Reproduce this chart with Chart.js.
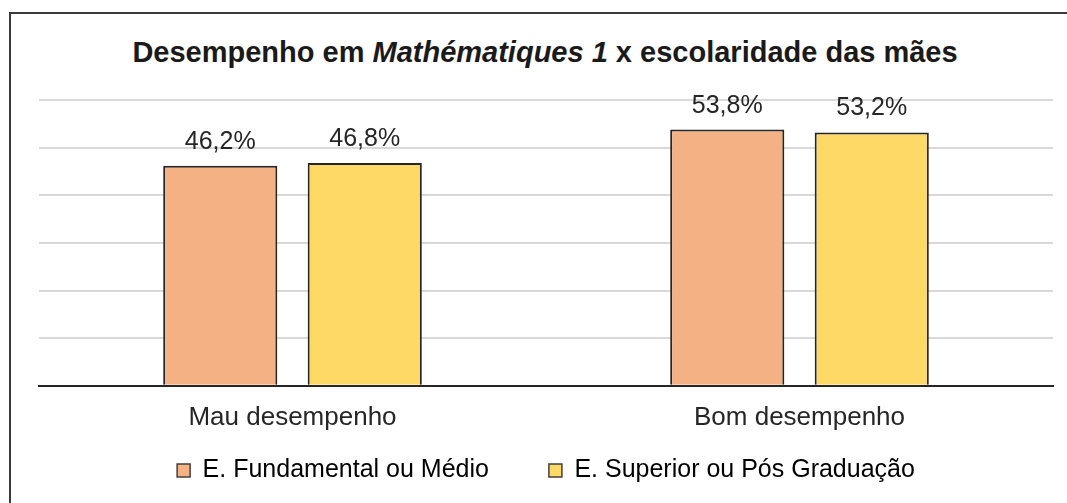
<!DOCTYPE html>
<html>
<head>
<meta charset="utf-8">
<script src="https://cdn.jsdelivr.net/npm/chart.js@4"></script>
<style>
  html, body { margin: 0; padding: 0; background: #fff; }
  #wrap { position: relative; width: 1067px; height: 503px; overflow: hidden; }
  #frame { position: absolute; left: 9px; top: 12px; width: 1100px; height: 600px;
           border: 2px solid #3a3a3a; box-sizing: border-box; }
  #title { position: absolute; left: 0; width: 1090px; top: 36px; line-height: 29px; text-align: center;
           font: bold 29px "Liberation Sans", Arial, sans-serif; color: #1a1a1a; white-space: nowrap; }
  canvas { position: absolute; left: 0; top: 0; }
</style>
</head>
<body>
<div id="wrap">
  <div id="frame"></div>
  <div id="title">Desempenho em <i>Mathématiques 1</i> x escolaridade das mães</div>
  <canvas id="myChart" width="1067" height="503"></canvas>
</div>
<script>
const categories = ['Mau desempenho', 'Bom desempenho'];
const seriesNames = ['E. Fundamental ou Médio', 'E. Superior ou Pós Graduação'];
const fundamentalMedio = [46.2, 53.8];
const superiorPos = [46.8, 53.2];
const yTicks = [0, 10, 20, 30, 40, 50, 60];

const FONT = '"Liberation Sans", Arial, sans-serif';

// writes the value above each bar, like the Excel data labels
const barLabels = {
    id: 'barLabels',
    afterDatasetsDraw(chart) {
        const c = chart.ctx;
        c.save();
        c.font = '25px ' + FONT;
        c.fillStyle = '#262626';
        c.textAlign = 'center';
        c.textBaseline = 'alphabetic';
        chart.data.datasets.forEach((ds, i) => {
            chart.getDatasetMeta(i).data.forEach((bar, j) => {
                c.fillText(ds.data[j].toFixed(1).replace('.', ',') + '%', bar.x, bar.y - 17);
            });
        });
        c.restore();
    }
};

// big label padding gives the wide gap between the two legend entries,
// so pull the legend block back up under the category labels
const legendShift = {
    id: 'legendShift',
    afterLayout(chart) {
        const lg = chart.legend;
        const dy = lg.top - 398;
        lg.top -= dy;
        lg.bottom -= dy;
    }
};

const ctx = document.getElementById('myChart');

new Chart(ctx, {
    type: 'bar',
    data: {
        labels: categories,
        datasets: [{
            label: seriesNames[0],
            data: fundamentalMedio,
            backgroundColor: '#F4B183',
            borderColor: '#262626',
            borderWidth: 2
        }, {
            label: seriesNames[1],
            data: superiorPos,
            backgroundColor: '#FFD966',
            borderColor: '#262626',
            borderWidth: 2
        }]
    },
    options: {
        responsive: false,
        animation: false,
        categoryPercentage: 0.57,
        barPercentage: 0.79,
        layout: { padding: { left: 39, right: 14, top: 100, bottom: -41 } },
        scales: {
            x: {
                grid: { display: false, drawTicks: false },
                border: { color: '#262626', width: 2 },
                ticks: {
                    color: '#262626',
                    padding: 16,
                    font: { family: FONT, size: 26 }
                }
            },
            y: {
                min: yTicks[0],
                max: yTicks[yTicks.length - 1],
                afterBuildTicks: axis => { axis.ticks = yTicks.map(v => ({ value: v })); },
                ticks: { display: false },
                border: { display: false },
                grid: {
                    color: c => c.tick.value === 0 ? 'rgba(0,0,0,0)' : '#d9d9d9',
                    lineWidth: 2,
                    drawTicks: false
                }
            }
        },
        plugins: {
            legend: {
                position: 'bottom',
                labels: {
                    color: '#262626',
                    boxWidth: 13,
                    boxHeight: 13,
                    padding: 60,
                    font: { family: FONT, size: 25 },
                    generateLabels: chart => chart.data.datasets.map((ds, i) => ({
                        text: ds.label,
                        fillStyle: ds.backgroundColor,
                        strokeStyle: '#404040',
                        lineWidth: 1.5,
                        datasetIndex: i
                    }))
                }
            },
            tooltip: { enabled: false }
        }
    },
    plugins: [barLabels, legendShift]
});
</script>
</body>
</html>
